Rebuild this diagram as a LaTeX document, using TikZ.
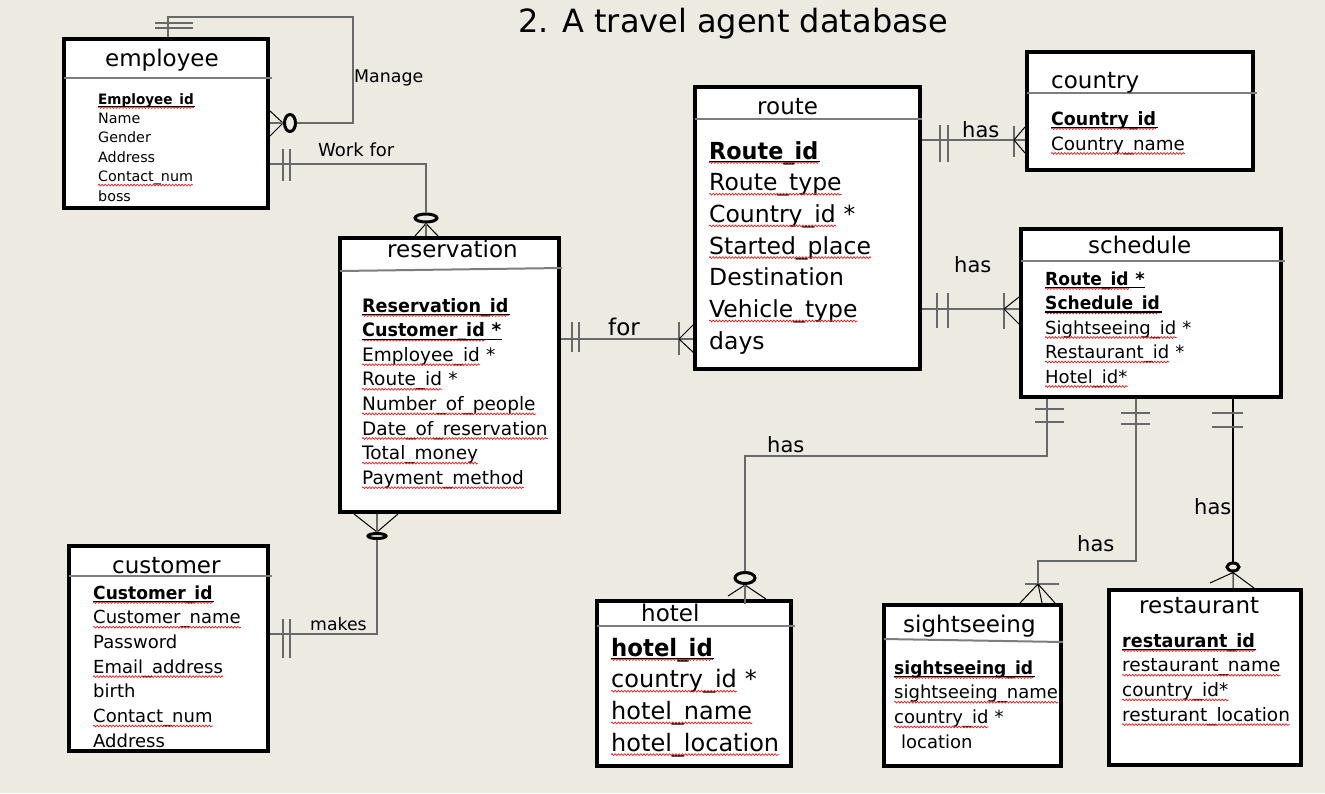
\documentclass[tikz,border=0pt]{standalone}
\usepackage{fontspec}
\setmainfont{DejaVu Sans}
\usetikzlibrary{shapes.geometric,calc,decorations.pathmorphing}
\definecolor{bg}{RGB}{237,234,226}
\definecolor{hl}{RGB}{125,125,125}
\definecolor{cn}{RGB}{105,105,105}
\definecolor{wred}{RGB}{235,30,30}
% #1 name, #2 position, #3 kind (0 plain, 1 wavy, 2 key), #4 text, #5 suffix, #6 font
\newcommand\attr[6]{%
  \node[txt,font=#6] (#1) at (#2) {\ifnum#3=2 \scalebox{0.95}[1]{\bfseries #4}\else #4\fi};
  \node[txt,font=#6] (#1s) at (#1.base east) {\ifnum#3=2 \bfseries\fi #5};
  \ifnum#3>0 \draw[wavy] ($(#1.base west)+(0,3.5)$) -- ($(#1.base east)+(0,3.5)$);\fi
  \ifnum#3=2 \draw[ul] ($(#1.base west)+(0,2.5)$) -- ($(#1s.base east)+(0,2.5)$);\fi
}
\begin{document}
\begin{tikzpicture}[x=1pt,y=-1pt,
  ent/.style={rectangle,draw=black,line width=4pt,fill=white,inner sep=0pt},
  hdr/.style={draw=hl,line width=2pt},
  cn/.style={draw=cn,line width=1.8pt},
  bar/.style={draw=cn,line width=1.8pt},
  crow/.style={draw=black,line width=1pt},
  opt/.style={ellipse,draw=black,line width=3pt,fill=bg,inner sep=0pt},
  txt/.style={anchor=base west,inner sep=0pt},
  ttl/.style={txt,font=\fontsize{23}{26}\selectfont},
  lbl/.style={txt,font=\fontsize{21}{24}\selectfont},
  wavy/.style={draw=wred,line width=0.7pt,decorate,decoration={snake,amplitude=0.9pt,segment length=3.2pt}},
  ul/.style={draw=black,line width=1.2pt}]
\useasboundingbox (0,0) rectangle (1325,793);
\fill[bg] (0,0) rectangle (1325,793);

\node[txt,font=\fontsize{32}{36}\selectfont] (title) at (518,32) {2. A travel agent database};

% ---------- entities ----------
\node[ent,minimum width=204pt,minimum height=169pt] (emp) at (166,123.5) {};
\node[ent,minimum width=219pt,minimum height=274pt] (res) at (449.5,375) {};
\node[ent,minimum width=199pt,minimum height=205pt] (cust) at (168.5,648.5) {};
\node[ent,minimum width=225pt,minimum height=282pt] (route) at (807.5,228) {};
\node[ent,minimum width=226pt,minimum height=118pt] (country) at (1140,111) {};
\node[ent,minimum width=260pt,minimum height=168pt] (sched) at (1151,313) {};
\node[ent,minimum width=194pt,minimum height=165pt] (hotel) at (694,683.5) {};
\node[ent,minimum width=177pt,minimum height=161pt] (sight) at (972.5,685.5) {};
\node[ent,minimum width=192pt,minimum height=175pt] (rest) at (1205,677.5) {};

% header lines
\draw[hdr] (64,78) -- (272,78);
\draw[hdr] (340,271) -- (562,268);
\draw[hdr] (69,576) -- (272,576);
\draw[hdr] (695,119) -- (922,119);
\draw[hdr] (1027,93) -- (1257,93);
\draw[hdr] (1021,261) -- (1285,261);
\draw[hdr] (597,626) -- (795,626);
\draw[hdr] (884,639) -- (1063,642);

% titles
\node[ttl] (empT) at (105,66) {employee};
\node[ttl] (resT) at (387,257) {reservation};
\node[ttl] (custT) at (112,573) {customer};
\node[ttl] (routeT) at (757,114) {route};
\node[ttl] (countryT) at (1051,88) {country};
\node[ttl] (schedT) at (1088,253) {schedule};
\node[ttl] (hotelT) at (641,621) {hotel};
\node[ttl] (sightT) at (903,632) {sightseeing};
\node[ttl] (restT) at (1139,613) {restaurant};

% attributes
\foreach \t/\s/\k [count=\i from 0] in {Employee\_id//2,Name//0,Gender//0,Address//0,Contact\_num//1,boss//0}
  {\attr{empA\i}{98,104+19.4*\i}{\k}{\t}{\s}{\fontsize{14.3}{17}\selectfont}}
\foreach \t/\s/\k [count=\i from 0] in {Reservation\_id//2,Customer\_id/{\ *}/2,Employee\_id/{\ *}/1,Route\_id/{\ *}/1,Number\_of\_people//1,Date\_of\_reservation//1,Total\_money//1,Payment\_method//1}
  {\attr{resA\i}{362,312+24.6*\i}{\k}{\t}{\s}{\fontsize{18.5}{22}\selectfont}}
\foreach \t/\s/\k [count=\i from 0] in {Customer\_id//2,Customer\_name//1,Password//0,Email\_address//1,birth//0,Contact\_num//1,Address//0}
  {\attr{custA\i}{93,599+24.7*\i}{\k}{\t}{\s}{\fontsize{18}{22}\selectfont}}
\foreach \t/\s/\k [count=\i from 0] in {Route\_id//2,Route\_type//1,Country\_id/{\ *}/1,Started\_place//1,Destination//0,Vehicle\_type//1,days//0}
  {\attr{routeA\i}{709,159+31.7*\i}{\k}{\t}{\s}{\fontsize{23.5}{28}\selectfont}}
\foreach \t/\s/\k [count=\i from 0] in {Country\_id//2,Country\_name//1}
  {\attr{countryA\i}{1051,125+25*\i}{\k}{\t}{\s}{\fontsize{18.3}{22}\selectfont}}
\foreach \t/\s/\k [count=\i from 0] in {Route\_id/{\ *}/2,Schedule\_id//2,Sightseeing\_id/{\ *}/1,Restaurant\_id/{\ *}/1,Hotel\_id*//1}
  {\attr{schedA\i}{1045,285+24.5*\i}{\k}{\t}{\s}{\fontsize{18}{22}\selectfont}}
\foreach \t/\s/\k [count=\i from 0] in {hotel\_id//2,country\_id/{\ *}/1,hotel\_name//1,hotel\_location//1}
  {\attr{hotelA\i}{611,656+31.7*\i}{\k}{\t}{\s}{\fontsize{24}{28}\selectfont}}
\foreach \t/\s/\k [count=\i from 0] in {sightseeing\_id//2,sightseeing\_name//1,country\_id/{\ *}/1}
  {\attr{sightA\i}{894,674+24.7*\i}{\k}{\t}{\s}{\fontsize{18}{22}\selectfont}}
\node[txt,font=\fontsize{18}{22}\selectfont] (sightA3) at (901,748) {location};
\foreach \t/\s/\k [count=\i from 0] in {restaurant\_id//2,restaurant\_name//1,country\_id*//1,resturant\_location//1}
  {\attr{restA\i}{1122,647+24.7*\i}{\k}{\t}{\s}{\fontsize{18.5}{22}\selectfont}}

% ---------- Manage (self) ----------
\coordinate (m1) at (168,17);
\coordinate (m2) at (353,17);
\coordinate (m3) at (353,123);
\node[opt,minimum width=11pt,minimum height=17pt] (mo) at (290,123) {};
\draw[cn] (emp.north -| m1) -- (m1) -- (m2) -- (m3) -- (mo.east);
\draw[bar] (155,23) -- (193,23) (155,28) -- (193,28);
\draw[crow] (mo.west) -- ($(emp.east |- mo)+(0,-12)$)
            (mo.west) -- ($(emp.east |- mo)+(0,13)$);
\draw[cn] (mo.west) -- (emp.east |- mo);
\node[txt,font=\fontsize{17.4}{20}\selectfont] (manageL) at (354,82) {Manage};

% ---------- Work for ----------
\node[opt,minimum width=22pt,minimum height=8pt] (wo) at (426,218) {};
\coordinate (wf) at (426,164);
\draw[cn] (emp.east |- wf) -- (wf) -- (wo.north);
\draw[bar] (283,149) -- (283,181) (290,149) -- (290,181);
\draw[crow] (wo.south) -- ($(res.north -| wo)+(-11,0)$)
            (wo.south) -- ($(res.north -| wo)+(12,0)$);
\draw[cn] (wo.south) -- (res.north -| wo);
\node[txt,font=\fontsize{18}{21}\selectfont] (workL) at (318,156) {Work for};

% ---------- for ----------
\coordinate (fr) at (679,339);
\draw[cn] (res.east |- fr) -- (route.west |- fr);
\draw[bar] (572,322) -- (572,352) (579,322) -- (579,352);
\draw[bar] (679,322) -- (679,355);
\draw[crow] (fr) -- ($(route.west |- fr)+(0,-14)$) (fr) -- ($(route.west |- fr)+(2,15)$);
\node[txt,font=\fontsize{23}{26}\selectfont] (forL) at (608,335) {for};

% ---------- makes ----------
\node[opt,minimum width=18pt,minimum height=5pt] (mk) at (377,536) {};
\coordinate (mkb) at (377,634);
\draw[cn] (mk.south) -- (mkb) -- (cust.east |- mkb);
\draw[crow] (mk.north) -- ($(res.south -| mk)+(-23,0)$)
            (mk.north) -- ($(res.south -| mk)+(21,0)$);
\draw[cn] (mk.north) -- (res.south -| mk);
\draw[bar] (283,619) -- (283,658) (290,619) -- (290,658);
\node[txt,font=\fontsize{17.3}{20}\selectfont] (makesL) at (310,630) {makes};

% ---------- route - country ----------
\coordinate (rc) at (1014,140);
\draw[cn] (route.east |- rc) -- (country.west |- rc);
\draw[bar] (940,125) -- (940,162) (948,125) -- (948,162);
\draw[bar] (1014,126) -- (1014,157);
\draw[crow] (rc) -- ($(country.west |- rc)+(0,-13)$) (rc) -- ($(country.west |- rc)+(0,13)$);
\node[lbl] (hasL1) at (962,137) {has};

% ---------- route - schedule ----------
\coordinate (rs) at (1004,309);
\draw[cn] (route.east |- rs) -- (sched.west |- rs);
\draw[bar] (937,293) -- (937,328) (948,293) -- (948,328);
\draw[bar] (1004,293) -- (1004,329);
\draw[crow] (rs) -- ($(sched.west |- rs)+(0,-12)$) (rs) -- ($(sched.west |- rs)+(0,15)$);
\node[lbl] (hasL2) at (954,272) {has};

% ---------- schedule - hotel ----------
\node[opt,minimum width=20pt,minimum height=11pt] (ho) at (745,578) {};
\coordinate (sh1) at (1047,456);
\coordinate (sh2) at (745,456);
\draw[cn] (sched.south -| sh1) -- (sh1) -- (sh2) -- (ho.north);
\draw[bar] (1035,409) -- (1064,409) (1035,422) -- (1064,422);
\draw[crow] (ho.south) -- ($(hotel.north -| ho)+(-17,-3)$)
            (ho.south) -- ($(hotel.north -| ho)+(21,0)$);
\draw[cn] (ho.south) -- ($(hotel.north -| ho)+(0,5)$);
\node[lbl] (hasL3) at (767,452) {has};

% ---------- schedule - sightseeing ----------
\coordinate (ss1) at (1136,561);
\coordinate (ss2) at (1038,561);
\coordinate (ssc) at (1038,584);
\draw[cn] (sched.south -| ss1) -- (ss1) -- (ss2) -- (ssc);
\draw[bar] (1121,413) -- (1150,413) (1121,424) -- (1150,424);
\draw[bar] (1025,584) -- (1059,584);
\draw[crow] (ssc) -- ($(sight.north -| ssc)+(-18,0)$)
            (ssc) -- ($(sight.north -| ssc)+(17,0)$)
            (ssc) -- ($(sight.north -| ssc)+(4,0)$);
\node[lbl] (hasL4) at (1077,551) {has};

% ---------- schedule - restaurant ----------
\node[opt,minimum width=12pt,minimum height=8pt] (ro) at (1233,567) {};
\draw[black,line width=1.3pt] (sched.south -| ro) -- (ro.north);
\draw[bar] (1212,413) -- (1243,413) (1212,427) -- (1243,427);
\draw[crow] (ro.south) -- ($(rest.north -| ro)+(-23,-5)$)
            (ro.south) -- ($(rest.north -| ro)+(21,0)$)
            (ro.south) -- (rest.north -| ro);
\node[lbl] (hasL5) at (1194,514) {has};
\end{tikzpicture}
\end{document}
